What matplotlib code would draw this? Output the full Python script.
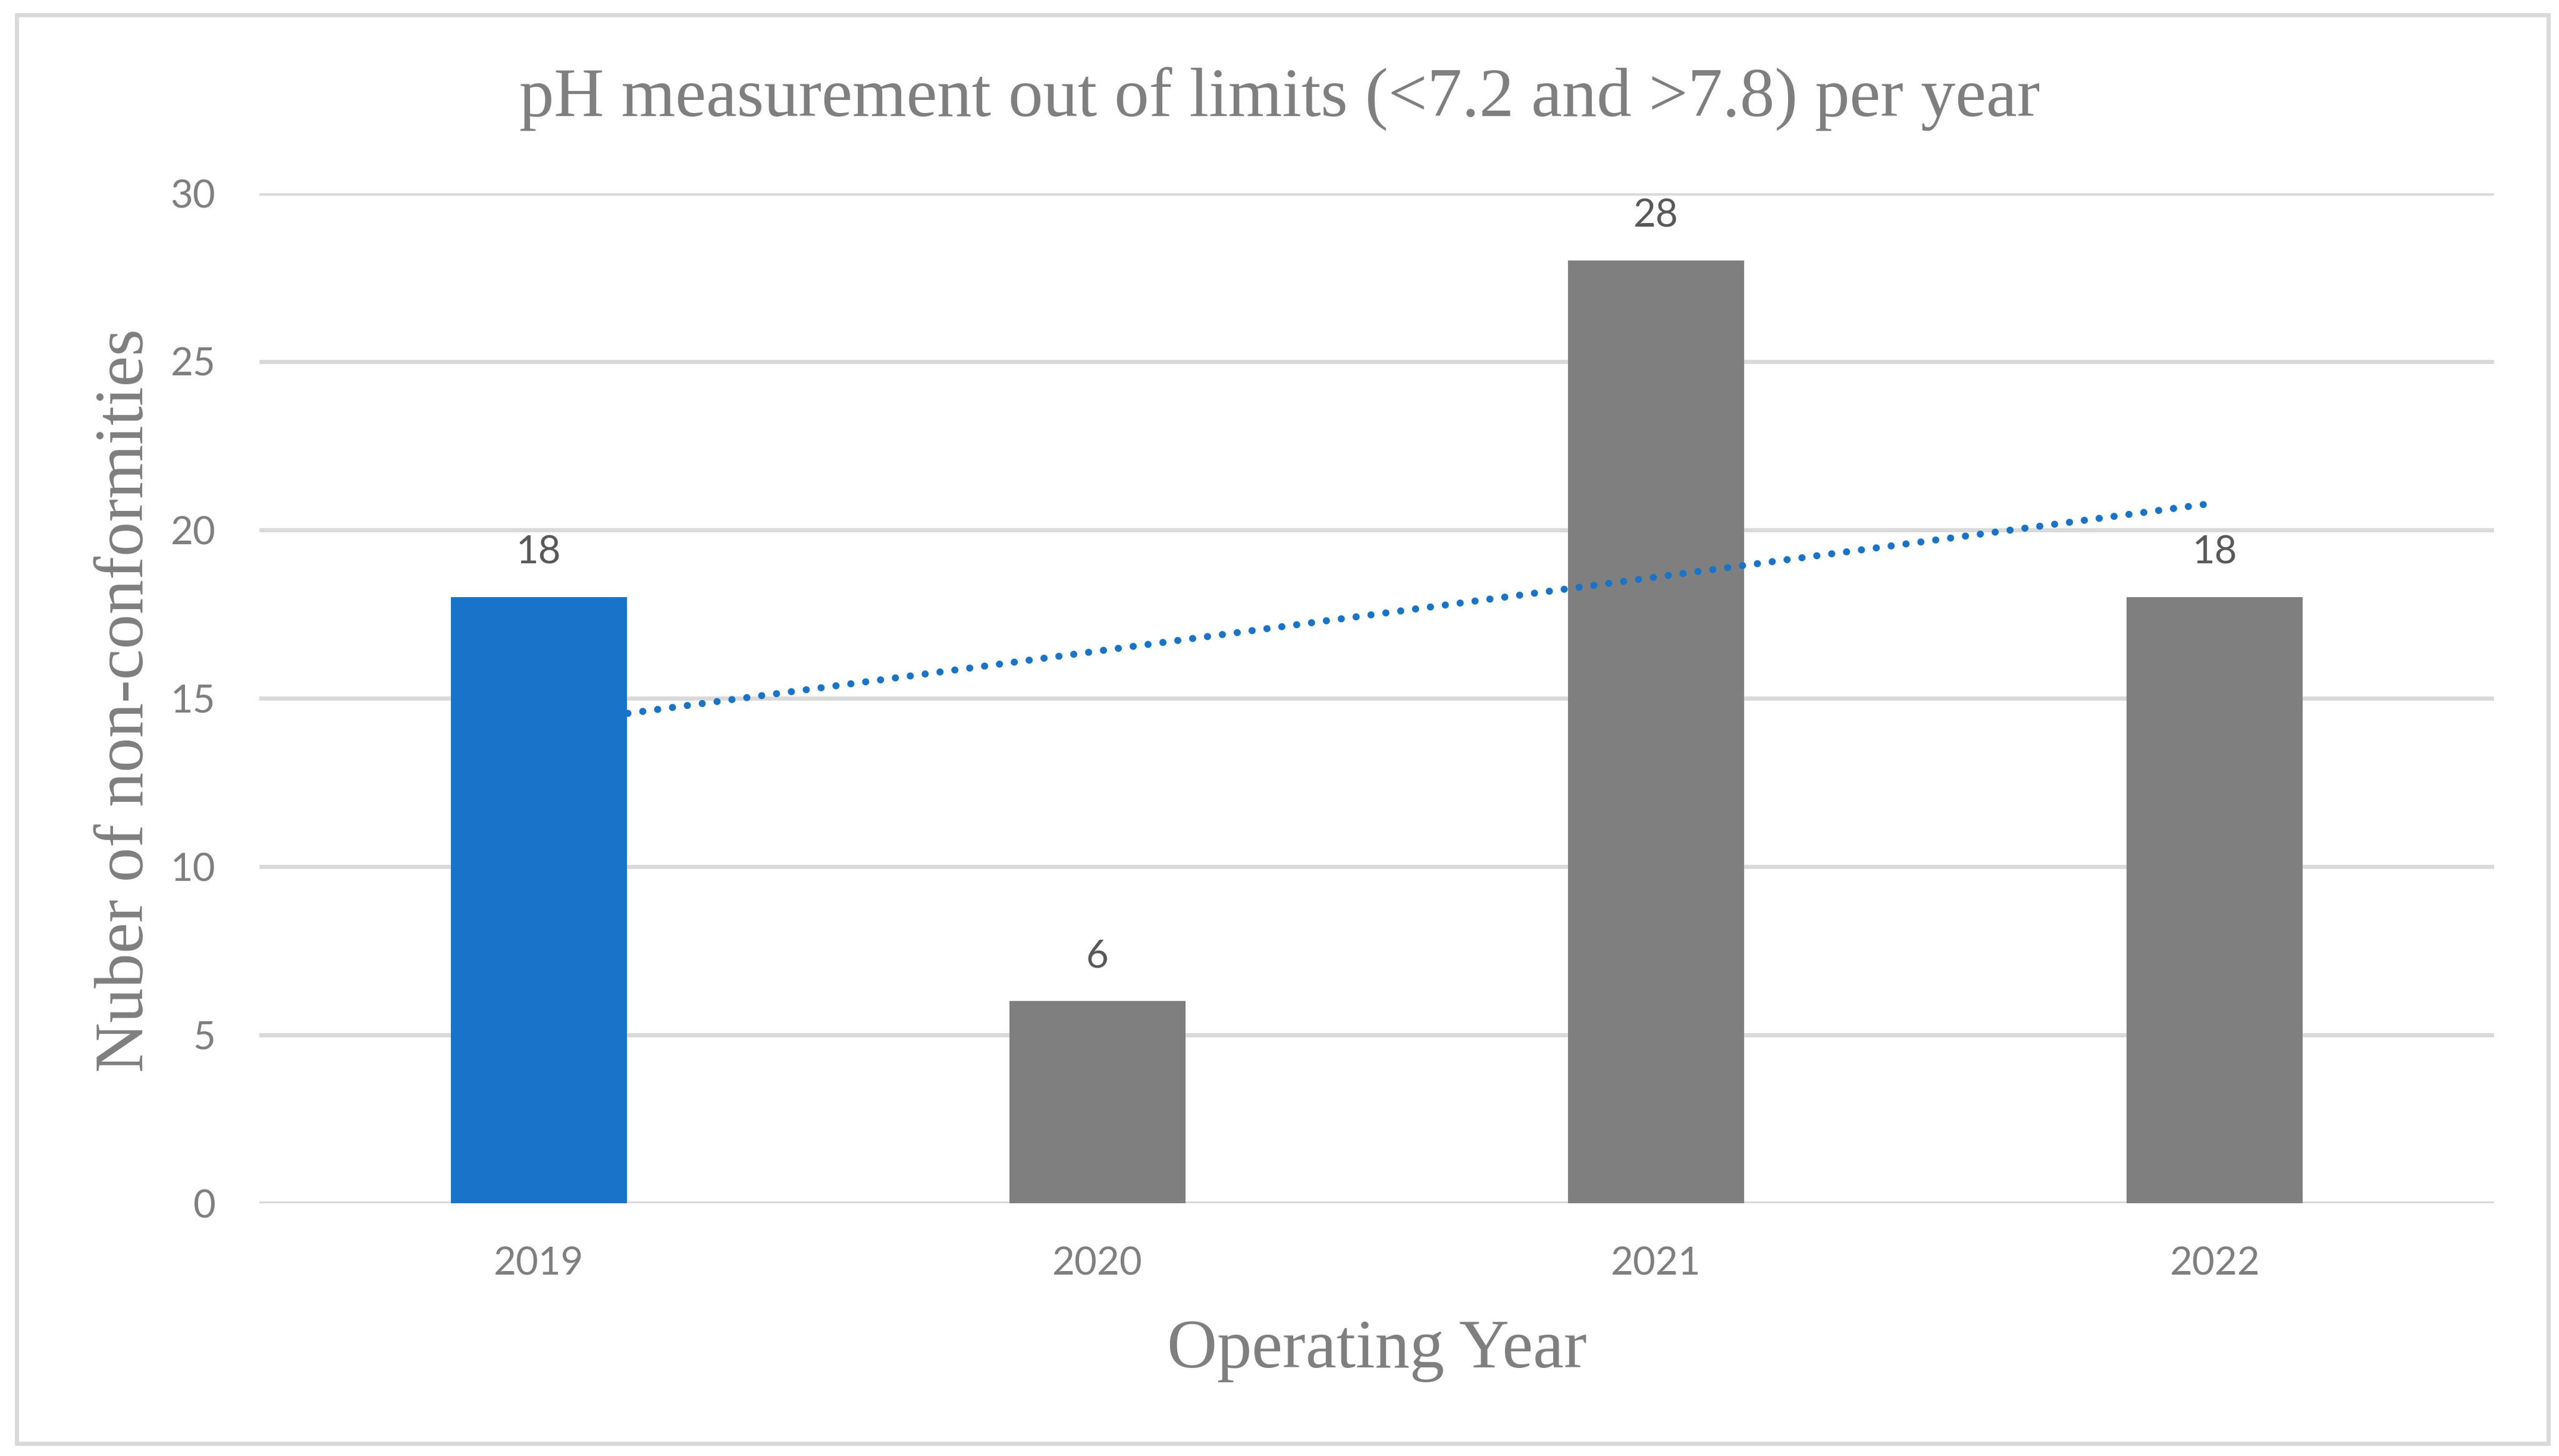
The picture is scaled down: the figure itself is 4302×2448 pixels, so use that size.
import matplotlib
matplotlib.use("Agg")
import matplotlib.pyplot as plt
from matplotlib.patches import Rectangle
import numpy as np

# data
years = ["2019", "2020", "2021", "2022"]
counts = [18, 6, 28, 18]
bar_colors = ["#1874C8", "#7F7F7F", "#7F7F7F", "#7F7F7F"]
y_ticks = [0, 5, 10, 15, 20, 25, 30]

title = "pH measurement out of limits (<7.2 and >7.8) per year"
xlabel = "Operating Year"
ylabel = "Nuber of non-conformities"

W, H = 4302, 2448
fig = plt.figure(figsize=(W / 100, H / 100), dpi=100)
fig.patch.set_facecolor("white")

# plot area (pixel coords measured on the reference)
left, right, top, bottom = 436, 4193, 325, 2023
ax = fig.add_axes([left / W, 1 - bottom / H, (right - left) / W, (bottom - top) / H])

x = np.arange(1, len(years) + 1)
ax.bar(x, counts, width=0.315, color=bar_colors, zorder=2)

# linear trendline over the category positions
slope, icpt = np.polyfit(x, counts, 1)
ax.plot(x[[0, -1]], slope * x[[0, -1]] + icpt, color="#1874C8", lw=8.6,
        linestyle=(0, (0.01, 2.1)), dash_capstyle="round", zorder=3)

for xi, v in zip(x, counts):
    ax.annotate(str(v), xy=(xi, v), xytext=(0, 41), textcoords="offset points",
                ha="center", va="baseline", fontsize=47, family="Lato",
                color="#595959")

ax.set_xlim(0.5, len(years) + 0.5)
ax.set_ylim(0, 30)
ax.set_xticks(x, labels=years)
ax.set_yticks(y_ticks)
ax.tick_params(axis="both", length=0, labelsize=47, labelcolor="#7F7F7F")
ax.tick_params(axis="y", pad=53)
ax.tick_params(axis="x", pad=52)
for lab in ax.get_xticklabels() + ax.get_yticklabels():
    lab.set_family("Lato")
ax.yaxis.grid(True, color="#D9D9D9", lw=5, zorder=0)
ax.set_axisbelow(True)
for s in ax.spines.values():
    s.set_visible(False)

serif = "Liberation Serif"
fig.text(0.5, 1 - 195 / H, title, ha="center", va="baseline",
         fontsize=84, family=serif, color="#7F7F7F")
fig.text(2315 / W, 1 - 2299 / H, xlabel, ha="center", va="baseline",
         fontsize=84, family=serif, color="#7F7F7F")
fig.text(240 / W, 1 - 1178 / H, ylabel, ha="center", va="baseline",
         rotation=90, rotation_mode="anchor",
         fontsize=84, family=serif, color="#7F7F7F")

# chart border
bx0, by0, bx1, by1 = 27.5, 24.5, 4283.5, 2426.5
fig.patches.append(Rectangle((bx0 / W, 1 - by1 / H), (bx1 - bx0) / W, (by1 - by0) / H,
                             transform=fig.transFigure, fill=False,
                             edgecolor="#D9D9D9", lw=5))

fig.savefig("out.png", dpi=100, facecolor="white")
